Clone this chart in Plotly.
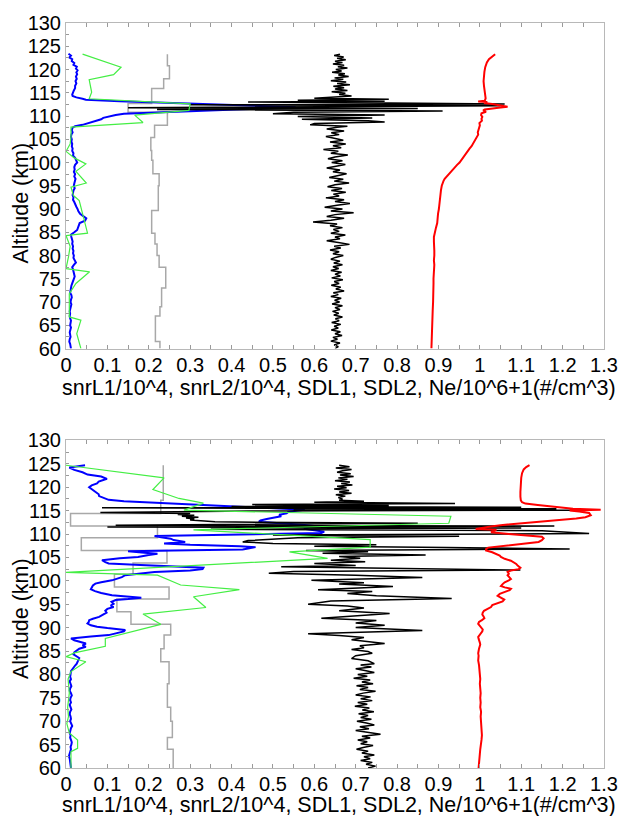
import numpy as np
import plotly.graph_objects as go

# ======================= TOP PANEL DATA =======================
# snrL1/10^4 (blue, fine resolution)
top_l1_alt = [123.4,123.0,122.6,122.2,121.8,121.4,121.0,120.6,120.2,119.8,
              119.4,119.0,118.5,118.0,117.5,117.0,116.5,116.0,115.5,115.0,
              114.6,114.3,114.0,113.7,113.5,113.2,112.9,112.5,112.2,111.9,
              111.7,111.5,111.3,111.0,110.7,110.5,110.2,109.9,109.6,109.3,
              109.0,108.7,108.4,108.1,107.8,107.5,107.0]
top_l1_val = [0.006,0.012,0.008,0.015,0.014,0.020,0.018,0.026,0.024,0.028,
              0.025,0.027,0.024,0.026,0.023,0.025,0.022,0.022,0.019,0.016,
              0.015,0.016,0.025,0.040,0.048,0.130,0.220,0.340,0.460,0.555,
              0.500,0.440,0.370,0.300,0.200,0.140,0.120,0.105,0.090,0.085,
              0.075,0.065,0.055,0.040,0.022,0.016,0.014]
top_l1_low_start, top_l1_low_step = 106.5, 0.5
top_l1_low_val = [0.016,0.013,0.012,0.014,0.013,0.015,0.014,0.016,0.015,0.018,
                  0.017,0.022,0.025,0.027,0.022,0.020,0.021,0.019,0.022,0.020,
                  0.023,0.021,0.020,0.019,0.021,0.018,0.017,0.016,0.018,0.017,
                  0.020,0.022,0.025,0.028,0.030,0.034,0.042,0.049,0.046,0.033,
                  0.031,0.029,0.027,0.020,0.012,0.013,0.014,0.016,0.015,0.017,
                  0.016,0.018,0.017,0.019,0.018,0.021,0.024,0.019,0.015,0.017,
                  0.018,0.020,0.021,0.019,0.016,0.015,0.013,0.012,0.011,0.010,
                  0.013,0.014,0.012,0.011,0.013,0.012,0.011,0.009,0.010,0.009,
                  0.010,0.012,0.011,0.010,0.012,0.011,0.009,0.010,0.011,0.009,
                  0.008,0.010,0.011,0.012]

# snrL2/10^4 (green, coarse)
top_l2_alt = [123.3,120.5,118.9,117.8,115.1,113.7,112.6,111.2,110.2,108.6,
              107.6,105.5,104.0,102.4,101.0,99.7,98.1,95.6,94.7,92.9,
              91.8,87.9,84.8,84.3,82.0,79.7,77.2,76.5,74.0,71.8,
              66.8,66.1,63.2,60.0]
top_l2_val = [0.040,0.133,0.115,0.056,0.062,0.056,0.300,0.297,0.166,0.186,
              0.012,0.012,0.010,0.000,0.020,0.048,0.024,0.049,0.012,0.018,
              0.032,0.044,0.052,0.000,0.010,0.006,0.000,0.057,0.024,0.008,
              0.008,0.036,0.026,0.036]

# SDL2 (gray step profile): bin edges and bin values
top_sdl2_edges = [123.3,120.8,118.0,115.9,112.7,110.8,108.0,105.4,102.6,100.5,
                  97.6,95.0,89.7,84.8,82.5,80.0,77.5,73.0,69.0,67.0,61.5,60.0]
top_sdl2_val = [0.245,0.250,0.236,0.207,0.150,0.245,0.214,0.205,0.207,0.210,
                0.225,0.223,0.207,0.215,0.220,0.225,0.241,0.231,0.227,0.216,0.227]

# SDL1 (black, fine)
top_sdl1_up_start, top_sdl1_up_step = 123.3, 0.3
top_sdl1_up_val = [0.662,0.648,0.671,0.655,0.676,0.650,0.668,0.645,0.672,0.657,
                   0.680,0.652,0.666,0.643,0.674,0.658,0.683,0.649,0.670,0.640,
                   0.677,0.655,0.686,0.646,0.672,0.650,0.680,0.642,0.675,0.660,0.690]
top_sdl1_mid_alt = [114.0,113.8,113.6,113.4,113.2,113.0,112.8,112.6,112.4,112.2,
                    112.0,111.8,111.6,111.4,111.1,110.8,110.5,110.2,109.9,109.6,
                    109.3,109.0,108.7,108.4,108.1,107.8]
top_sdl1_mid_val = [0.630,0.600,0.780,0.560,0.770,0.440,0.780,1.060,0.300,1.050,
                    0.620,0.150,0.850,0.220,0.910,0.550,0.500,0.770,0.560,0.740,
                    0.570,0.730,0.770,0.600,0.590,0.680]
top_sdl1_low_start, top_sdl1_low_step = 107.6, 0.4
top_sdl1_low_val = [0.655,0.630,0.672,0.641,0.660,0.628,0.648,0.670,0.638,0.676,
                    0.645,0.665,0.622,0.658,0.640,0.681,0.650,0.633,0.668,0.642,
                    0.675,0.652,0.630,0.662,0.645,0.678,0.655,0.636,0.670,0.648,
                    0.684,0.650,0.632,0.667,0.641,0.676,0.646,0.660,0.628,0.672,
                    0.650,0.686,0.655,0.625,0.668,0.640,0.695,0.650,0.630,0.672,
                    0.640,0.597,0.655,0.638,0.668,0.646,0.660,0.640,0.675,0.650,
                    0.662,0.630,0.658,0.685,0.648,0.664,0.638,0.660,0.645,0.670,
                    0.651,0.640,0.662,0.647,0.668,0.645,0.659,0.640,0.666,0.650,
                    0.663,0.642,0.669,0.648,0.660,0.641,0.664,0.652,0.672,0.646,
                    0.658,0.640,0.665,0.649,0.661,0.643,0.668,0.650,0.662,0.644,
                    0.659,0.647,0.668,0.651,0.660,0.642,0.664,0.648,0.658,0.641,
                    0.663,0.650,0.667,0.645,0.656,0.640,0.662,0.648,0.658,0.650]

# Ne/10^6+1 (red)
top_ne_alt = [123.3,122.8,122.2,121.5,120.5,119.5,118.5,117.5,116.5,115.5,
              114.5,113.8,113.3,113.1,113.0,112.8,112.6,112.4,112.2,112.0,
              111.8,111.6,111.4,111.2,110.9,110.6,110.2,109.8,109.4,109.0,
              108.5,108.0,107.5,107.0,106.5,106.0,105.5,105.0,104.5,104.0,
              103.5,103.0,102.5,102.0,101.5,101.0,100.5,100.0,99.5,99.0,
              98.5,98.0,97.5,97.0,96.5,96.0,95.5,95.0,94.0,93.0,
              92.0,91.0,90.0,89.0,88.0,87.0,86.0,85.0,84.0,83.0,
              82.0,81.0,80.0,79.0,78.0,77.0,76.0,75.0,74.0,73.0,
              72.0,71.0,70.0,68.0,66.0,64.0,62.0,60.0]
top_ne_val = [1.037,1.030,1.022,1.017,1.013,1.011,1.010,1.009,1.010,1.011,
              1.012,1.014,1.012,0.996,1.018,1.010,1.030,1.045,1.060,1.067,
              1.045,1.025,1.012,1.008,1.015,1.004,1.003,1.006,1.004,1.005,
              0.999,1.000,0.998,0.997,0.995,0.996,0.993,0.990,0.987,0.983,
              0.980,0.975,0.971,0.967,0.963,0.960,0.955,0.951,0.945,0.940,
              0.935,0.930,0.924,0.919,0.915,0.912,0.910,0.908,0.906,0.905,
              0.903,0.903,0.901,0.899,0.898,0.897,0.894,0.891,0.889,0.889,
              0.890,0.890,0.890,0.889,0.890,0.889,0.889,0.888,0.888,0.888,
              0.887,0.887,0.887,0.886,0.885,0.885,0.884,0.883]

# ======================= BOTTOM PANEL DATA =======================
bot_l1_alt = [124.7,124.2,123.7,123.2,122.7,122.3,121.8,121.5,121.2,120.8,
              120.4,120.0,119.6,119.2,118.8,118.5,118.1,117.7,117.3,117.0,
              116.7,116.4,116.1,115.8,115.5,115.2,115.0,114.7,114.4,114.1,
              113.8,113.5,113.2,112.9,112.6,112.4,112.2,112.0,111.7,111.4,
              111.1,110.8,110.5,110.2,109.9,109.6,109.3,109.0,108.7,108.3,
              108.0,107.7,107.4,107.2,106.9,106.7,106.5,106.3,106.0,105.8,
              105.5,105.1,104.8,104.4,104.0,103.7,103.4,103.1,102.8,102.5,
              102.2,101.9,101.6,101.2,100.8,100.4,100.1,99.7,99.4,99.0,
              98.6,98.2,97.8,97.4,96.9,96.6,96.4,96.1,95.9,95.5,
              95.1,94.7,94.4,94.0,93.6,93.2,92.7,92.3,91.9,91.6,
              91.2,90.9,90.5,90.2,89.9,89.5,89.2,88.8,88.4,88.1,
              87.7,87.3,86.9,86.6,86.2,85.9,85.5,85.1,84.7,84.3,
              83.9,83.5,83.1,82.7,82.3,81.9,81.5,81.1,80.7]
bot_l1_val = [0.046,0.008,0.020,0.040,0.052,0.085,0.099,0.090,0.079,0.075,
              0.062,0.056,0.062,0.070,0.075,0.079,0.080,0.090,0.103,0.140,
              0.220,0.290,0.356,0.450,0.530,0.577,0.560,0.537,0.533,0.515,
              0.520,0.497,0.485,0.470,0.466,0.500,0.537,0.570,0.600,0.590,
              0.575,0.600,0.624,0.617,0.450,0.214,0.230,0.253,0.260,0.288,
              0.237,0.300,0.420,0.458,0.440,0.427,0.260,0.150,0.190,0.221,
              0.200,0.174,0.130,0.087,0.095,0.103,0.180,0.270,0.332,0.330,
              0.300,0.214,0.180,0.143,0.135,0.120,0.111,0.085,0.071,0.065,
              0.062,0.060,0.070,0.085,0.111,0.160,0.182,0.150,0.120,0.110,
              0.115,0.108,0.115,0.100,0.095,0.098,0.087,0.080,0.065,0.056,
              0.055,0.052,0.060,0.075,0.100,0.143,0.140,0.119,0.103,0.060,
              0.012,0.020,0.035,0.048,0.040,0.048,0.032,0.025,0.020,0.018,
              0.025,0.032,0.030,0.028,0.026,0.022,0.018,0.014,0.012]
bot_l1_low_start, bot_l1_low_step = 80.0, 0.5
bot_l1_low_val = [0.011,0.010,0.012,0.009,0.011,0.013,0.010,0.009,0.012,0.014,
                  0.011,0.010,0.012,0.009,0.011,0.013,0.010,0.009,0.011,0.012,
                  0.010,0.013,0.015,0.012,0.010,0.009,0.011,0.010,0.012,0.014,
                  0.013,0.011,0.012,0.010,0.008,0.007,0.009,0.010,0.011,0.012,
                  0.012]

bot_l2_alt = [124.7,122.0,119.5,117.6,116.6,115.1,113.8,112.3,110.9,108.8,
              107.2,106.2,104.8,101.8,101.2,99.1,98.1,96.6,94.3,92.9,
              90.7,87.7,86.0,84.6,83.8,82.7,80.6,79.0,76.0,73.0,
              71.0,69.5,67.5,66.0,64.2,63.5,60.0]
bot_l2_val = [0.000,0.237,0.210,0.273,0.332,0.285,0.930,0.925,0.308,0.735,
              0.735,0.540,0.632,0.000,0.221,0.277,0.419,0.308,0.338,0.186,
              0.229,0.095,0.095,0.020,0.000,0.048,0.012,0.005,0.008,0.004,
              0.006,0.002,0.008,0.028,0.028,0.012,0.012]

bot_sdl2_edges = [124.7,117.2,114.4,111.7,109.2,106.5,103.8,101.4,98.7,96.1,
                  93.4,90.7,88.4,85.5,82.7,78.0,73.0,70.0,66.5,64.0,60.0]
bot_sdl2_val = [0.235,0.229,0.011,0.221,0.037,0.244,0.162,0.117,0.249,0.123,
                0.157,0.253,0.237,0.229,0.249,0.245,0.253,0.257,0.245,0.259]

bot_sdl1_up_start, bot_sdl1_up_step = 124.7, 0.3
bot_sdl1_up_val = [0.660,0.685,0.652,0.690,0.668,0.655,0.688,0.662,0.695,0.658,
                   0.680,0.650,0.686,0.665,0.692,0.655,0.678,0.648,0.684,0.660,
                   0.690,0.652,0.675,0.658,0.668]
bot_sdl1_mid_alt = [117.2,117.0,116.8,116.5,116.3,116.1,115.9,115.7,115.6,115.4,
                    115.2,115.1,114.9,114.6,114.4,114.2,114.0,113.8,113.6,113.4,
                    113.2,113.0,112.8,112.6,112.3,112.1,111.9,111.7,111.5,111.3,
                    111.0,110.7,110.4,110.1,109.8,109.5,109.2,108.9,108.6,108.3,
                    108.0,107.7,107.4,107.1,106.8,106.5,106.2,105.9,105.5,105.2,
                    104.8,104.4,104.1,103.7,103.3,103.0,102.6,102.3,102.0,101.6,
                    101.2,100.7,100.1,99.6,99.3,98.8,98.1,97.7,97.3,96.8,
                    96.2,95.7,95.0,94.6,94.2,93.6,93.0,92.5,92.0,91.5,
                    91.0,90.5,90.0,89.4,88.7,88.3,87.9,87.4,86.9,86.6,
                    86.1,85.7,85.3,84.9,84.5,84.0,83.4,82.9,82.3]
bot_sdl1_mid_val = [0.660,0.720,0.600,0.940,0.450,0.780,0.400,1.100,0.087,1.185,
                    0.550,1.220,0.450,0.083,0.300,0.270,0.310,0.280,0.320,0.290,
                    0.310,0.300,0.330,0.360,0.850,0.320,0.120,1.180,0.100,1.100,
                    0.350,1.150,1.210,1.264,0.500,0.950,0.560,0.480,0.440,0.427,
                    0.500,0.750,0.600,0.920,1.217,0.580,0.730,0.620,0.869,0.660,
                    0.711,0.640,0.723,0.600,0.700,0.520,0.820,1.098,0.550,0.490,
                    0.700,0.861,0.593,0.720,0.660,0.790,0.609,0.740,0.680,0.750,
                    0.932,0.640,0.585,0.680,0.720,0.660,0.782,0.690,0.617,0.750,
                    0.700,0.770,0.700,0.861,0.585,0.660,0.720,0.690,0.740,0.770,
                    0.710,0.720,0.690,0.730,0.740,0.700,0.690,0.730,0.745]
bot_sdl1_low_start, bot_sdl1_low_step = 82.0, 0.4
bot_sdl1_low_val = [0.712,0.738,0.700,0.725,0.745,0.705,0.728,0.695,0.735,0.715,
                    0.742,0.702,0.730,0.710,0.748,0.718,0.700,0.736,0.712,0.740,
                    0.705,0.728,0.698,0.733,0.716,0.744,0.707,0.730,0.712,0.738,
                    0.703,0.726,0.745,0.710,0.732,0.700,0.725,0.760,0.715,0.735,
                    0.705,0.728,0.712,0.742,0.718,0.702,0.730,0.715,0.745,0.720,
                    0.735,0.712,0.740,0.725,0.748,0.730]

bot_ne_alt = [124.7,124.3,123.8,123.0,122.0,121.0,120.0,119.0,118.0,117.2,
              116.8,116.5,116.2,115.9,115.6,115.4,115.2,115.05,114.8,114.5,
              114.0,113.6,113.3,112.8,112.5,112.2,111.9,111.6,111.3,111.1,
              110.9,110.7,110.4,110.0,109.7,109.4,109.1,108.7,108.3,108.0,
              107.7,107.4,107.1,106.8,106.5,106.1,105.8,105.4,105.1,104.7,
              104.3,104.0,103.6,103.2,102.8,102.5,102.2,101.9,101.5,101.2,
              100.8,100.4,100.1,99.7,99.3,98.9,98.6,98.3,98.0,97.6,
              97.2,96.8,96.4,96.0,95.6,95.2,94.8,94.4,94.0,93.6,
              93.2,92.8,92.4,92.0,91.6,91.2,90.8,90.4,90.0,89.6,
              89.2,88.8,88.4,88.0,87.6,87.2,86.8,86.4,86.0,85.5,
              85.0,84.5,84.0,83.0,82.0,81.0,80.0,79.0,78.0,77.0,
              76.0,75.0,74.0,73.0,72.0,71.0,70.0,69.0,68.0,67.0,
              66.0,65.0,64.0,63.0,62.0,61.0,60.0]
bot_ne_val = [1.120,1.112,1.106,1.102,1.100,1.099,1.099,1.098,1.098,1.099,
              1.102,1.110,1.140,1.169,1.200,1.225,1.292,1.217,1.240,1.264,
              1.268,1.255,1.233,1.169,1.120,1.082,1.050,1.027,1.004,0.990,
              1.040,1.035,1.027,1.070,1.122,1.150,1.154,1.150,1.142,1.110,
              1.070,1.040,1.020,1.015,1.015,1.030,1.039,1.048,1.051,1.060,
              1.075,1.082,1.088,1.092,1.098,1.094,1.075,1.067,1.070,1.067,
              1.072,1.075,1.070,1.060,1.055,1.051,1.060,1.075,1.072,1.060,
              1.048,1.043,1.050,1.059,1.055,1.040,1.030,1.027,1.018,1.010,
              1.007,1.006,1.009,1.011,1.005,0.998,0.996,1.000,1.004,1.007,
              1.006,1.002,0.999,0.996,0.997,0.999,1.000,1.001,0.999,0.998,
              0.997,0.996,0.997,0.996,0.998,0.999,1.000,1.001,1.000,1.001,
              1.002,1.001,1.002,1.001,1.003,1.002,1.003,1.004,1.004,1.005,
              1.004,1.002,1.001,1.000,0.999,0.998,0.997]

x_title = "snrL1/10^4, snrL2/10^4, SDL1, SDL2, Ne/10^6+1(#/cm^3)"
y_title = "Altitude (km)"

# ======================= BUILD =======================
def grid(start, step, vals):
    return [round(start - step * i, 3) for i in range(len(vals))]

def pairs(a, v):
    assert len(a) == len(v), (len(a), len(v))
    return list(a), list(v)

def steps(edges, vals):
    assert len(edges) == len(vals) + 1
    return list(vals) + [vals[-1]], list(edges)

FONT = "Liberation Sans, Arial, sans-serif"
BLUE, GREEN, GRAY, BLACK, RED = "#0000ff", "#44ee44", "#a8a8a8", "#000000", "#ff0000"

fig = go.Figure()

def add(x, y, color, width, xa, ya, shape="linear"):
    fig.add_trace(go.Scatter(x=x, y=y, mode="lines",
                             line=dict(color=color, width=width, shape=shape),
                             xaxis=xa, yaxis=ya, showlegend=False, hoverinfo="skip"))

for xa, ya, P in [("x", "y", "top"), ("x2", "y2", "bot")]:
    g = globals()
    a, v = pairs(g[P + "_l1_alt"], g[P + "_l1_val"])
    lv = g[P + "_l1_low_val"]
    a = a + grid(g[P + "_l1_low_start"], g[P + "_l1_low_step"], lv)
    v = v + lv
    a2, v2 = pairs(g[P + "_l2_alt"], g[P + "_l2_val"])
    sx, sy = steps(g[P + "_sdl2_edges"], g[P + "_sdl2_val"])
    uv = g[P + "_sdl1_up_val"]
    ba = grid(g[P + "_sdl1_up_start"], g[P + "_sdl1_up_step"], uv)
    bv = list(uv)
    ma, mv = pairs(g[P + "_sdl1_mid_alt"], g[P + "_sdl1_mid_val"])
    ba += ma; bv += mv
    lw = g[P + "_sdl1_low_val"]
    ba += grid(g[P + "_sdl1_low_start"], g[P + "_sdl1_low_step"], lw)
    bv += lw
    ra, rv = pairs(g[P + "_ne_alt"], g[P + "_ne_val"])

    add(sx, sy, GRAY, 1.5, xa, ya, shape="vh")
    add(v, a, BLUE, 2, xa, ya)
    add(bv, ba, BLACK, 1.5, xa, ya)
    add(v2, a2, GREEN, 1.2, xa, ya)
    add(rv, ra, RED, 2, xa, ya)

tickfont = dict(family=FONT, size=20, color="black")
xcommon = dict(range=[0, 1.3], tick0=0, dtick=0.1, ticks="inside", ticklen=4,
               tickcolor="#9a9a9a", showline=True, linecolor="#b8b8b8", linewidth=1,
               mirror="ticks", showgrid=False, zeroline=False, tickfont=tickfont,
               ticklabelstandoff=-2,
               minor=dict(dtick=0.05, ticks="inside", ticklen=4, tickcolor="#9a9a9a"))
ycommon = dict(range=[60, 130], tick0=60, dtick=5, ticks="inside", ticklen=3,
               tickcolor="#9a9a9a", showline=True, linecolor="#b8b8b8", linewidth=1,
               mirror=True, showgrid=False, zeroline=False, tickfont=tickfont,
               minor=dict(dtick=2.5, ticks="inside", ticklen=3, tickcolor="#9a9a9a"))

H, W = 816, 630
ML, MR, MT, MB = 66, 16, 22, 48
PH = H - MT - MB

def ypaper(py):
    return (H - MB - py) / PH

def xpaper(px):
    return (px - ML) / (W - ML - MR)

fig.update_layout(
    width=W, height=H, margin=dict(l=ML, r=MR, t=MT, b=MB),
    paper_bgcolor="white", plot_bgcolor="white",
    xaxis=dict(xcommon, domain=[0, 1], anchor="y"),
    yaxis=dict(ycommon, domain=[ypaper(348), 1], anchor="x"),
    xaxis2=dict(xcommon, domain=[0, 1], anchor="y2"),
    yaxis2=dict(ycommon, domain=[0, ypaper(440)], anchor="x2"),
)

LABEL = 21.5
ann = []
for ty, xy in [(202, 387), (618, 805)]:
    ann.append(dict(text=y_title, xref="paper", yref="paper", x=xpaper(20), y=ypaper(ty),
                    textangle=-90, showarrow=False, xanchor="center", yanchor="middle",
                    font=dict(family=FONT, size=LABEL, color="black")))
    ann.append(dict(text=x_title, xref="paper", yref="paper", x=xpaper(344), y=ypaper(xy),
                    showarrow=False, xanchor="center", yanchor="middle",
                    font=dict(family=FONT, size=LABEL, color="black")))
fig.update_layout(annotations=ann)

fig.write_html("out.html")
